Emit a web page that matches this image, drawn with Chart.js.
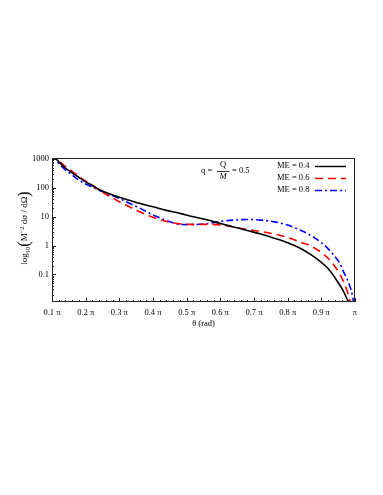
<!DOCTYPE html>
<html>
<head>
<meta charset="utf-8">
<script src="https://cdn.jsdelivr.net/npm/chart.js@4.4.1/dist/chart.umd.min.js"></script>
<style>
  html, body { margin: 0; padding: 0; background: #fff; }
  #wrap { width: 383px; height: 495px; position: relative; }
</style>
</head>
<body>
<div id="wrap"><canvas id="c"></canvas></div>
<script>
// theta in units of pi
const theta = [0.1, 0.11, 0.12, 0.14, 0.16, 0.18, 0.2, 0.22, 0.24, 0.27, 0.3, 0.33, 0.36, 0.4, 0.44, 0.48, 0.52, 0.56, 0.6, 0.64, 0.68, 0.72, 0.76, 0.8, 0.84, 0.87, 0.9, 0.92, 0.94, 0.955, 0.965, 0.975, 0.98, 0.985, 0.99, 0.995];
const me04 = [1600, 1100, 800, 480, 330, 230, 160, 120, 88, 62, 47, 37, 29, 22, 16.5, 13, 10, 7.8, 5.8, 4.4, 3.3, 2.5, 1.8, 1.25, 0.77, 0.47, 0.26, 0.16, 0.078, 0.042, 0.027, 0.015, 0.011, 0.006, 0.003, 0.001];
const me06 = [1800, 1250, 900, 540, 370, 250, 170, 120, 83, 52, 33, 22, 14.7, 9.5, 6.8, 5.6, 5.4, 5.4, 5.2, 4.4, 3.6, 3.05, 2.5, 1.9, 1.28, 0.95, 0.57, 0.36, 0.19, 0.1, 0.06, 0.03, 0.02, 0.012, 0.006, 0.002];
const me08 = [1500, 1000, 700, 420, 280, 185, 135, 105, 83, 58, 43, 29, 20, 11.5, 7.4, 5.4, 5.3, 5.7, 6.8, 7.6, 8.0, 7.6, 6.6, 5.1, 3.3, 2.2, 1.25, 0.78, 0.42, 0.24, 0.13, 0.075, 0.055, 0.038, 0.025, 0.012];
const seriesLabels = ['ME = 0.4', 'ME = 0.6', 'ME = 0.8'];
const seriesColors = ['#000000', '#ff0000', '#0000ff'];
const seriesDash = [[], [8, 5], [7, 3, 2, 3]];
const yLabelValues = [1000, 100, 10, 1, 0.1];

const SERIF = '"Liberation Serif", "DejaVu Serif", serif';

const datasets = [me04, me06, me08].map((vals, i) => ({
  label: seriesLabels[i],
  data: theta.map((t, j) => ({ x: t, y: vals[j] })),
  borderColor: seriesColors[i],
  borderDash: seriesDash[i],
  borderWidth: 1.6,
  pointRadius: 0,
  cubicInterpolationMode: 'monotone',
  fill: false
}));

const decor = {
  id: 'decor',
  afterDraw(chart) {
    const { ctx, chartArea: a, scales: { x, y } } = chart;
    ctx.save();
    // frame
    ctx.strokeStyle = '#222';
    ctx.lineWidth = 1;
    ctx.strokeRect(Math.round(a.left) + 0.5, Math.round(a.top) + 0.5,
      Math.round(a.right - a.left) - 1, Math.round(a.bottom - a.top) - 1);

    // x ticks (inward)
    ctx.beginPath();
    for (let k = 0; k <= 45; k++) {
      const v = 0.1 + k * 0.02;
      const px = Math.round(x.getPixelForValue(v)) + 0.5;
      const len = (k % 5 === 0) ? 4 : 2;
      ctx.moveTo(px, a.bottom);
      ctx.lineTo(px, a.bottom - len);
    }
    // y ticks (inward)
    for (let d = -2; d <= 3; d++) {
      for (let m = 1; m <= 9; m++) {
        const v = m * Math.pow(10, d);
        if (v < y.min || v > y.max) continue;
        const py = Math.round(y.getPixelForValue(v)) + 0.5;
        const len = m === 1 ? 4 : 2;
        ctx.moveTo(a.left, py);
        ctx.lineTo(a.left + len, py);
      }
    }
    ctx.stroke();

    // legend
    ctx.font = '8.5px ' + SERIF;
    ctx.fillStyle = '#000';
    ctx.textBaseline = 'middle';
    ctx.textAlign = 'left';
    const rows = [166, 178, 190];
    chart.data.datasets.forEach((ds, i) => {
      ctx.fillText(ds.label, 277, rows[i]);
      ctx.beginPath();
      ctx.setLineDash(ds.borderDash);
      ctx.strokeStyle = ds.borderColor;
      ctx.lineWidth = 1.4;
      ctx.moveTo(315, rows[i] + 0.5);
      ctx.lineTo(346, rows[i] + 0.5);
      ctx.stroke();
    });
    ctx.setLineDash([]);

    // q = Q / M = 0.5
    ctx.fillStyle = '#000';
    ctx.strokeStyle = '#000';
    ctx.font = '8.5px ' + SERIF;
    ctx.textAlign = 'left';
    ctx.fillText('q =', 201, 171);
    ctx.textAlign = 'center';
    ctx.fillText('Q', 223, 165);
    ctx.font = 'italic 8.5px ' + SERIF;
    ctx.fillText('M', 223, 177);
    ctx.beginPath();
    ctx.lineWidth = 0.8;
    ctx.moveTo(217, 171.5);
    ctx.lineTo(229.5, 171.5);
    ctx.stroke();
    ctx.font = '8.5px ' + SERIF;
    ctx.textAlign = 'left';
    ctx.fillText('= 0.5', 232, 171);

    // y axis title
    const parts = [
      { t: 'log', s: 9, dy: 0 },
      { t: '10', s: 6.5, dy: 3 },
      { t: '(', s: 16, dy: 0 },
      { t: 'M', s: 9, dy: 0 },
      { t: '\u22122', s: 6.5, dy: -3 },
      { t: ' d\u03c3 / d\u03a9', s: 9, dy: 0 },
      { t: ')', s: 16, dy: 0 }
    ];
    let total = 0;
    parts.forEach(p => { ctx.font = p.s + 'px ' + SERIF; p.w = ctx.measureText(p.t).width; total += p.w; });
    ctx.translate(25, 228);
    ctx.rotate(-Math.PI / 2);
    ctx.textAlign = 'left';
    ctx.textBaseline = 'middle';
    let cx = -total / 2;
    parts.forEach(p => {
      ctx.font = p.s + 'px ' + SERIF;
      ctx.fillText(p.t, cx, p.dy);
      cx += p.w;
    });
    ctx.restore();

    // x axis title
    ctx.save();
    ctx.font = '8.5px ' + SERIF;
    ctx.fillStyle = '#000';
    ctx.textAlign = 'center';
    ctx.textBaseline = 'middle';
    ctx.fillText('\u03b8 (rad)', x.getPixelForValue(0.55), 324);
    ctx.restore();
  }
};

new Chart(document.getElementById('c'), {
  type: 'line',
  data: { datasets },
  options: {
    responsive: true,
    maintainAspectRatio: false,
    animation: false,
    layout: { padding: { top: 158, right: 28, bottom: 163, left: 0 } },
    plugins: { legend: { display: false }, tooltip: { enabled: false } },
    scales: {
      x: {
        type: 'linear',
        min: 0.1,
        max: 1.0,
        afterFit: s => { s.height = 30; },
        grid: { display: false, drawTicks: false },
        border: { display: false },
        ticks: {
          stepSize: 0.1,
          padding: 6,
          maxRotation: 0,
          color: '#000',
          font: { family: SERIF, size: 8.5 },
          callback: v => Math.abs(v - 1) < 1e-6 ? '\u03c0' : v.toFixed(1) + ' \u03c0'
        }
      },
      y: {
        type: 'logarithmic',
        min: 0.011,
        max: 1080,
        afterFit: s => { s.width = 52; },
        grid: { display: false, drawTicks: false },
        border: { display: false },
        afterBuildTicks: s => { s.ticks = yLabelValues.map(v => ({ value: v })); },
        ticks: {
          padding: 3,
          color: '#000',
          font: { family: SERIF, size: 8.5 },
          callback: v => String(v)
        }
      }
    }
  },
  plugins: [decor]
});
</script>
</body>
</html>
